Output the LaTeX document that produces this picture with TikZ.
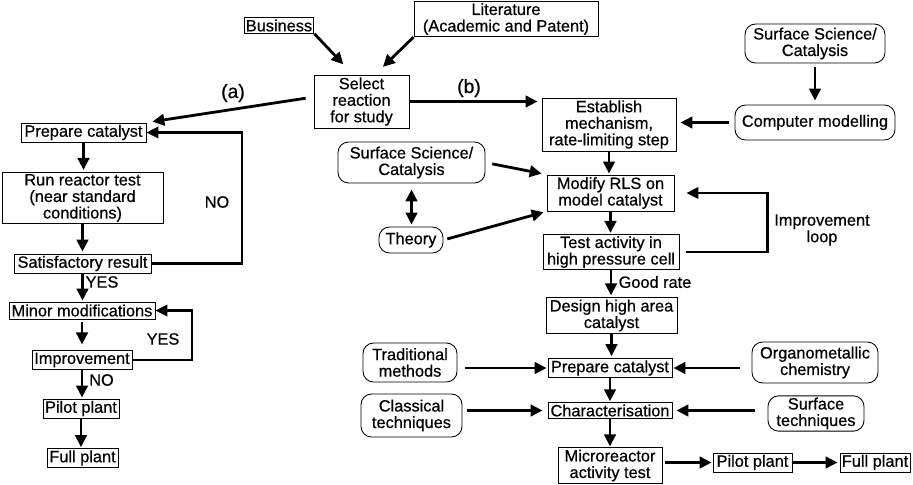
\documentclass[tikz,border=0pt]{standalone}
\usepackage{fontspec}
\setmainfont{Liberation Sans}[FakeBold=0.6]
\usepackage{tikz}
\usetikzlibrary{arrows.meta,calc}
\newlength{\pxl}
\setlength{\pxl}{0.02cm}

\begin{document}
\begin{tikzpicture}[x=0.02cm,y=-0.02cm,font=\fontsize{9.3}{9.4}\selectfont,
    pbox/.style 2 args={draw,line width=0.5pt,align=center,inner sep=1pt,minimum width=#1\pxl,minimum height=#2\pxl},
    rbox/.style 2 args={pbox={#1}{#2},rounded corners=6pt},
    arr/.style={-{Triangle[length=2.4mm,width=2.3mm]},line width=1.6pt},
    darr/.style={{Triangle[length=2.4mm,width=2.3mm]}-{Triangle[length=2.4mm,width=2.3mm]},line width=1.6pt},
    fb/.style={-{Triangle[length=2.4mm,width=2.3mm]},line width=1.2pt},
    big/.style={font=\fontsize{11}{12}\selectfont}]
                \useasboundingbox (0,0) rectangle (913,484);
                % route (a)
                \node[pbox={68}{15}] (biz) at (279,25.5) {Business};
                \node[pbox={184}{34}] (lit) at (506,19) {Literature\\(Academic and Patent)};
                \node[pbox={95}{53}] (sel) at (361.5,101.5) {Select\\reaction\\for study};
                \node[pbox={125}{19}] (prepA) at (83.5,132.5) {Prepare catalyst};
                \node[pbox={161}{50}] (run) at (82.5,198) {Run reactor test\\(near standard\\conditions)};
                \node[pbox={137}{19}] (sat) at (82.5,263.5) {Satisfactory result};
                \node[pbox={146}{17}] (minor) at (82,310.5) {Minor modifications};
                \node[pbox={100}{16}] (impr) at (82,360) {Improvement};
                \node[pbox={76}{19}] (pilotA) at (81,408.5) {Pilot plant};
                \node[pbox={71}{18}] (fullA) at (82.5,458) {Full plant};
                % route (b)
                \node[rbox={140}{39}] (ssA) at (815,43.5) {Surface Science/\\Catalysis};
                \node[rbox={160}{35}] (comp) at (815,122.5) {Computer modelling};
                \node[pbox={134}{53}] (est) at (609,124.5) {Establish\\mechanism,\\rate-limiting step};
                \node[rbox={147}{41}] (ssB) at (411.5,162.5) {Surface Science/\\Catalysis};
                \node[pbox={127}{36}] (mod) at (610.5,193) {Modify RLS on\\model catalyst};
                \node[rbox={64}{26}] (theory) at (411,240) {Theory};
                \node[pbox={136}{34}] (test) at (611,252) {Test activity in\\high pressure cell};
                \node[pbox={131}{35}] (design) at (611.5,315.5) {Design high area\\catalyst};
                \node[pbox={124}{18}] (prepB) at (610,368) {Prepare catalyst};
                \node[rbox={94}{39}] (trad) at (410,362.5) {Traditional\\methods};
                \node[rbox={126}{41}] (organo) at (815,362.5) {Organometallic\\chemistry};
                \node[pbox={124}{15}] (char) at (610,410.5) {Characterisation};
                \node[rbox={101}{43}] (classical) at (411.5,415.5) {Classical\\techniques};
                \node[rbox={96}{33}] (surf) at (816,413.5) {Surface\\techniques};
                \node[pbox={104}{35}] (micro) at (610,465.5) {Microreactor\\activity test};
                \node[pbox={79}{19}] (pilotB) at (752.5,462.5) {Pilot plant};
                \node[pbox={70}{19}] (fullB) at (875,462.5) {Full plant};
                % labels
                \node[big] (la) at (233,93) {(a)};
                \node[big] (lb) at (469,88) {(b)};
                \node (noA) at (217,202) {NO};
                \node (yesA) at (102,282) {YES};
                \node (yesB) at (163,339) {YES};
                \node (noB) at (101.5,380) {NO};
                \node (good) at (655,282) {Good rate};
                \node[align=center] (imploop) at (822,230) {Improvement\\loop};
                % connectors
                \draw[arr,shorten >=14\pxl] (biz.south east) -- ($(sel.north)+(-8.5,0)$);
                \draw[arr,shorten >=11\pxl] (lit.south west) -- ($(sel.north)+(13.5,0)$);
                \draw[arr,shorten <=8\pxl,shorten >=6\pxl] ($(sel.west)+(0,-4.5)$) -- (prepA.north east);
                \draw[arr,shorten >=4\pxl] (sel.east) -- (sel.east -| est.west);
                \draw[arr,shorten >=2\pxl] (prepA.south) -- (prepA.south |- run.north);
                \draw[arr,shorten >=2\pxl] (run.south) -- (run.south |- sat.north);
                \draw[arr,shorten >=1\pxl] (sat.south) -- (sat.south |- minor.north);
                \draw[arr,shorten <=3\pxl,shorten >=6\pxl] (minor.south) -- (minor.south |- impr.north);
                \draw[arr,shorten >=1\pxl] (impr.south) -- (impr.south |- pilotA.north);
                \draw[arr,shorten >=1\pxl] (pilotA.south) -- (pilotA.south |- fullA.north);
                \draw[fb] (sat.east) -- ++(91,0) |- (prepA.east);
                \draw[fb] (impr.east) -- ++(60,0) |- (minor.east);
                \draw[arr,shorten <=4\pxl,shorten >=4\pxl] (ssA.south) -- (ssA.south |- comp.north);
                \draw[arr,shorten <=6\pxl,shorten >=4\pxl] (comp.west) -- (comp.west -| est.east);
                \draw[arr,shorten >=1\pxl] (est.south) -- (est.south |- mod.north);
                \draw[arr,shorten <=7\pxl,shorten >=5\pxl] (ssB.east) -- (mod.north west);
                \draw[darr,shorten <=6\pxl,shorten >=2\pxl] (ssB.south) -- (ssB.south |- theory.north);
                \draw[arr,shorten <=4\pxl,shorten >=3\pxl] (theory.east) -- (mod.south west);
                \draw[arr,shorten >=1\pxl] (mod.south) -- (mod.south |- test.north);
                \draw[fb,shorten <=7\pxl,shorten >=12\pxl] (test.east) -- ++(88,0) |- (mod.east);
                \draw[arr,shorten >=2\pxl] (test.south) -- (test.south |- design.north);
                \draw[arr,shorten >=2\pxl] (design.south) -- (design.south |- prepB.north);
                \draw[arr,shorten >=1\pxl] (prepB.south) -- (prepB.south |- char.north);
                \draw[arr,shorten >=1\pxl] (char.south) -- (char.south |- micro.north);
                \draw[arr,shorten <=8\pxl,shorten >=1\pxl] (prepB.west -| trad.east) -- (prepB.west);
                \draw[arr,shorten <=12\pxl,shorten >=1\pxl] (prepB.east -| organo.west) -- (prepB.east);
                \draw[arr,shorten <=5\pxl,shorten >=5\pxl] (char.west -| classical.east) -- (char.west);
                \draw[arr,shorten <=13\pxl,shorten >=4\pxl] (char.east -| surf.west) -- (char.east);
                \draw[arr,shorten <=3\pxl,shorten >=1\pxl] (pilotB.west -| micro.east) -- (pilotB.west);
                \draw[arr,shorten >=2\pxl] (pilotB.east) -- (fullB.west);
\end{tikzpicture}
\end{document}
